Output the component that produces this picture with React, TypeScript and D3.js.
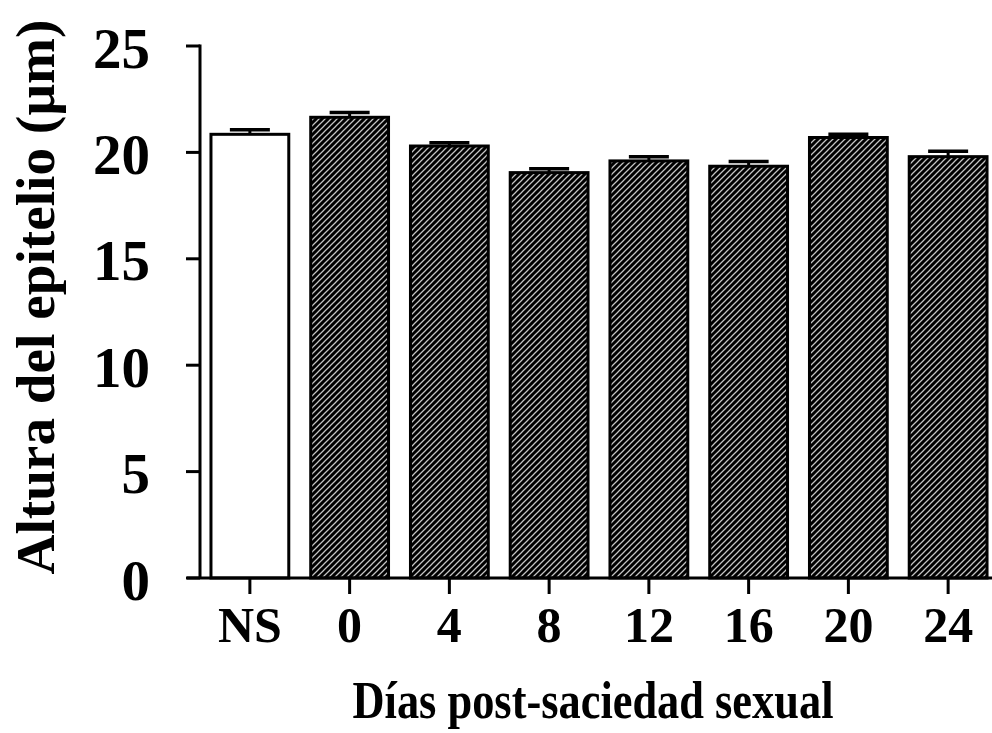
import React from "react";
import * as d3 from "d3";

const categories = ["NS", "0", "4", "8", "12", "16", "20", "24"];
const means = [20.85, 21.65, 20.3, 19.05, 19.6, 19.35, 20.7, 19.8];
const errors = [0.22, 0.22, 0.15, 0.18, 0.2, 0.22, 0.15, 0.25];
const yTicks = [0, 5, 10, 15, 20, 25];
const xTitle = "Días post-saciedad sexual";
const yTitle = "Altura del epitelio (µm)";

const W = 992;
const H = 733;

export default function App() {
  const x = d3
    .scaleBand<string>()
    .domain(categories)
    .range([199, 999])
    .paddingInner(0.22)
    .paddingOuter(0.12);
  const y = d3.scaleLinear().domain([0, 25]).range([578, 46]);
  const font = "'Liberation Serif', 'Times New Roman', serif";
  const bw = x.bandwidth();

  return (
    <svg
      width={W}
      height={H}
      style={{ position: "absolute", left: 0, top: 0, background: "#fff" }}
      fontFamily={font}
      fontWeight="bold"
    >
      <defs>
        <pattern id="hatch" patternUnits="userSpaceOnUse" width={6} height={6}>
          <rect width={6} height={6} fill="#000" />
          <path d="M0,6 L6,0 M-1,1 L1,-1 M5,7 L7,5" stroke="#c4c4c4" strokeWidth={1.25} />
        </pattern>
      </defs>

      {/* bars */}
      {categories.map((c, i) => {
        const x0 = x(c)!;
        const cx = x0 + bw / 2;
        const top = y(means[i]);
        const errTop = y(means[i] + errors[i]);
        return (
          <g key={c}>
            <line x1={cx} x2={cx} y1={top} y2={errTop} stroke="#000" strokeWidth={3} />
            <line x1={cx - 20} x2={cx + 20} y1={errTop} y2={errTop} stroke="#000" strokeWidth={3.5} />
            <rect
              x={x0}
              y={top}
              width={bw}
              height={y(0) - top}
              fill={i === 0 ? "#fff" : "url(#hatch)"}
              stroke="#000"
              strokeWidth={3}
            />
          </g>
        );
      })}

      {/* y axis */}
      <line x1={200} x2={200} y1={y(25) - 1.5} y2={y(0)} stroke="#000" strokeWidth={3} />
      {yTicks.map((t) => (
        <g key={t}>
          <line x1={186} x2={200} y1={y(t)} y2={y(t)} stroke="#000" strokeWidth={3} />
          <text
            x={150}
            y={y(t) + 2}
            textAnchor="end"
            dominantBaseline="central"
            fontSize={57}
          >
            {t}
          </text>
        </g>
      ))}

      {/* x axis */}
      <line x1={187} x2={992} y1={y(0)} y2={y(0)} stroke="#000" strokeWidth={3} />
      {categories.map((c) => {
        const cx = x(c)! + bw / 2;
        return (
          <g key={c}>
            <line x1={cx} x2={cx} y1={y(0)} y2={594} stroke="#000" strokeWidth={3} />
            <text x={cx} y={642} textAnchor="middle" fontSize={50}>
              {c}
            </text>
          </g>
        );
      })}

      {/* titles */}
      <text
        x={593}
        y={718}
        textAnchor="middle"
        fontSize={52}
        textLength={481}
        lengthAdjust="spacingAndGlyphs"
      >
        {xTitle}
      </text>
      <text
        transform={`translate(54,297) rotate(-90)`}
        textAnchor="middle"
        fontSize={54}
        textLength={555}
        lengthAdjust="spacingAndGlyphs"
      >
        {yTitle}
      </text>
    </svg>
  );
}
